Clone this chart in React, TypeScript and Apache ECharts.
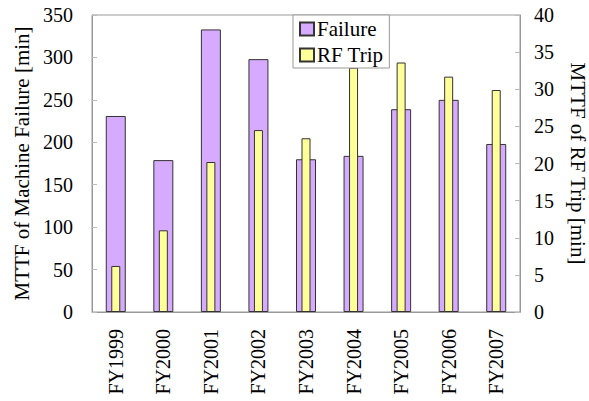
import React, { useEffect, useRef } from "react";
import * as echarts from "echarts";

const categories = ["FY1999", "FY2000", "FY2001", "FY2002", "FY2003", "FY2004", "FY2005", "FY2006", "FY2007"];
const failureValues = [231, 179, 333, 298, 180, 184, 239, 250, 198];
const rfTripValues = [6.2, 11.0, 20.2, 24.5, 23.4, 32.9, 33.6, 31.7, 29.9];
const leftTicks = { min: 0, max: 350, interval: 50 };
const rightTicks = { min: 0, max: 40, interval: 5 };

const FONT = "Liberation Serif";

export default function App() {
  const ref = useRef<HTMLDivElement>(null);
  useEffect(() => {
    const chart = echarts.init(ref.current!, null, { renderer: "svg" });
    const tickText = { fontFamily: FONT, fontSize: 20, color: "#000" };
    const nameText = { fontFamily: FONT, fontSize: 21, color: "#000" };
    chart.setOption({
      animation: false,
      backgroundColor: "#fff",
      textStyle: { fontFamily: FONT },
      grid: {
        left: 92, right: 69, top: 15, bottom: 89,
        show: true, borderColor: "#999", borderWidth: 1, containLabel: false,
        outerBoundsMode: "none",
      },
      legend: {
        left: 293, top: 15, orient: "vertical",
        data: ["Failure", "RF Trip"],
        itemWidth: 14, itemHeight: 13, itemGap: 4,
        padding: [3, 6, 2, 6],
        borderColor: "#999", borderWidth: 1, backgroundColor: "#fff",
        textStyle: { ...nameText, lineHeight: 22, padding: [0, 0, 0, -2] },
        icon: "rect",
      },
      xAxis: [
        {
          type: "category", data: categories, gridIndex: 0,
          axisLine: { lineStyle: { color: "#999" } },
          axisTick: { inside: true, length: 5, lineStyle: { color: "#bbb" } },
          axisLabel: { ...tickText, rotate: 90, margin: 17 },
        },
        { type: "category", data: categories, gridIndex: 0, show: false },
      ],
      yAxis: [
        {
          type: "value", ...leftTicks, position: "left",
          name: "MTTF of Machine Failure [min]", nameLocation: "middle", nameGap: 60,
          nameTextStyle: nameText,
          axisLine: { show: true, lineStyle: { color: "#999" } },
          axisTick: { show: true, inside: true, length: 5, lineStyle: { color: "#bbb" } },
          splitLine: { show: false },
          axisLabel: { ...tickText, margin: 19 },
        },
        {
          type: "value", ...rightTicks, position: "right",
          name: "MTTF of RF Trip [min]", nameLocation: "middle", nameGap: 47, nameRotate: -90,
          nameTextStyle: { ...nameText, lineHeight: 21 },
          axisLine: { show: true, lineStyle: { color: "#999" } },
          axisTick: { show: true, inside: true, length: 5, lineStyle: { color: "#bbb" } },
          splitLine: { show: false },
          axisLabel: { ...tickText, margin: 14 },
        },
      ],
      series: [
        {
          name: "Failure", type: "bar", xAxisIndex: 0, yAxisIndex: 0,
          data: failureValues, barWidth: 20,
          itemStyle: { color: "#D5AAFF", borderColor: "#333", borderWidth: 1 },
        },
        {
          name: "RF Trip", type: "bar", xAxisIndex: 1, yAxisIndex: 1,
          data: rfTripValues, barWidth: 9,
          itemStyle: { color: "#FFFF99", borderColor: "#333", borderWidth: 1 },
        },
      ],
    });
    return () => chart.dispose();
  }, []);
  return <div ref={ref} style={{ width: 589, height: 401, position: "absolute", left: 0, top: 0 }} />;
}
